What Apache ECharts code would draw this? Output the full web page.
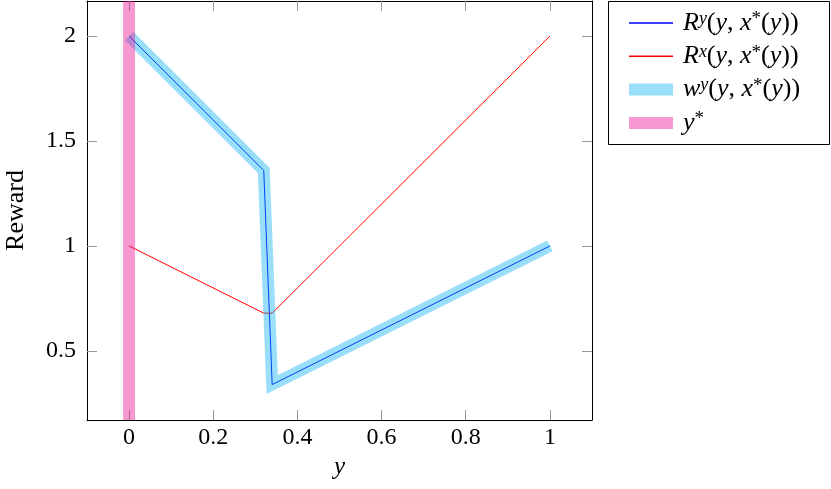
<!DOCTYPE html>
<html>
<head>
<meta charset="utf-8">
<script src="https://cdn.jsdelivr.net/npm/echarts@6/dist/echarts.min.js"></script>
<style>
  html, body { margin: 0; padding: 0; background: #fff; }
  #main { width: 831px; height: 489px; }
</style>
</head>
<body>
<div id="main"></div>
<script>
// data
var ryData = [[0, 2], [0.32, 1.36], [0.34, 0.34], [1, 1]];
var rxData = [[0, 1], [0.32, 0.68], [0.34, 0.68], [1, 2]];
var wyData = [[0, 2], [0.32, 1.36], [0.34, 0.34], [1, 1]];
var yStar = 0;
var xTicks = [0, 0.2, 0.4, 0.6, 0.8, 1];
var xTickLabels = ['0', '0.2', '0.4', '0.6', '0.8', '1'];
var yTicks = [0.5, 1, 1.5, 2];
var yTickLabels = ['0.5', '1', '1.5', '2'];
var xMin = -0.1, xMax = 1.1;
var yMin = 0.171, yMax = 2.167;

var serif = 'Liberation Serif';
var chart = echarts.init(document.getElementById('main'));

function lab(list, labels) {
  return function (v) {
    for (var i = 0; i < list.length; i++) {
      if (Math.abs(list[i] - v) < 1e-9) return labels[i];
    }
    return '';
  };
}

function baseAxis(pos, show) {
  return {
    type: 'value',
    position: pos,
    axisLine: { show: true, onZero: false, lineStyle: { color: '#000', width: 1 } },
    axisTick: { show: true, inside: true, length: 10, lineStyle: { color: '#999', width: 1 } },
    axisLabel: { show: show, color: '#000', fontFamily: serif, fontSize: 24 },
    splitLine: { show: false }
  };
}

var xBottom = baseAxis('bottom', true);
xBottom.min = xMin; xBottom.max = xMax;
xBottom.axisTick.customValues = xTicks;
xBottom.axisLabel.customValues = xTicks;
xBottom.axisLabel.formatter = lab(xTicks, xTickLabels);
xBottom.axisLabel.margin = 6;
xBottom.name = 'y';
xBottom.nameLocation = 'middle';
xBottom.nameGap = 32;
xBottom.nameTextStyle = { fontFamily: serif, fontStyle: 'italic', fontSize: 25, color: '#000' };

var xTop = baseAxis('top', false);
xTop.min = xMin; xTop.max = xMax;
xTop.axisTick.customValues = xTicks;

var yLeft = baseAxis('left', true);
yLeft.min = yMin; yLeft.max = yMax;
yLeft.axisTick.customValues = yTicks;
yLeft.axisLabel.customValues = yTicks;
yLeft.axisLabel.formatter = lab(yTicks, yTickLabels);
yLeft.axisLabel.margin = 11;
yLeft.name = 'Reward';
yLeft.nameLocation = 'middle';
yLeft.nameGap = 58;
yLeft.nameTextStyle = { fontFamily: serif, fontSize: 26, color: '#000' };

var yRight = baseAxis('right', false);
yRight.min = yMin; yRight.max = yMax;
yRight.axisTick.customValues = yTicks;

var legendText = {
  'Ry': '{i|R}{sup|y}{r|(}{i|y}{r|, }{i|x}{st|*}{r|(}{i|y}{r|))}',
  'Rx': '{i|R}{sup|x}{r|(}{i|y}{r|, }{i|x}{st|*}{r|(}{i|y}{r|))}',
  'wy': '{i|w}{sup|y}{r|(}{i|y}{r|, }{i|x}{st|*}{r|(}{i|y}{r|))}',
  'ys': '{i|y}{st|*}'
};

var option = {
  animation: false,
  backgroundColor: '#fff',
  grid: { left: 87, right: 239, top: 1, bottom: 69, outerBoundsMode: 'none', containLabel: false },
  xAxis: [xBottom, xTop],
  yAxis: [yLeft, yRight],
  legend: {
    orient: 'vertical',
    left: 608,
    top: 1,
    padding: [9, 10, 11, 15],
    itemWidth: 44,
    itemHeight: 12,
    itemGap: 7.3,
    itemStyle: { opacity: 0 },
    data: [
      { name: 'Ry', lineStyle: { width: 1.5 } },
      { name: 'Rx', lineStyle: { width: 1.5 } },
      { name: 'wy', lineStyle: { width: 12 } },
      { name: 'ys', lineStyle: { width: 12 } }
    ],
    formatter: function (name) { return legendText[name]; },
    textStyle: {
      padding: [0, 0, 0, 5],
      rich: {
        i: { fontFamily: serif, fontStyle: 'italic', fontSize: 26, lineHeight: 26, color: '#000' },
        r: { fontFamily: serif, fontSize: 26, lineHeight: 26, color: '#000' },
        sup: { fontFamily: serif, fontStyle: 'italic', fontSize: 18, lineHeight: 14, verticalAlign: 'top', color: '#000' },
        st: { fontFamily: serif, fontSize: 19, lineHeight: 16, verticalAlign: 'top', color: '#000' }
      }
    }
  },
  graphic: [{
    type: 'rect',
    shape: { x: 608.5, y: 1.5, width: 221, height: 143 },
    style: { fill: 'none', stroke: '#000', lineWidth: 1 },
    z: 100
  }],
  series: [
    {
      name: 'Ry', type: 'line', data: ryData, symbol: 'none',
      lineStyle: { color: '#0000ff', width: 1 }, itemStyle: { color: '#0000ff' }, z: 2
    },
    {
      name: 'Rx', type: 'line', data: rxData, symbol: 'none',
      lineStyle: { color: '#ff0000', width: 1 }, itemStyle: { color: '#ff0000' }, z: 3
    },
    {
      name: 'wy', type: 'line', data: wyData, symbol: 'none',
      lineStyle: { color: '#00aeef', width: 12, opacity: 0.4, join: 'miter' },
      itemStyle: { color: '#00aeef' }, z: 4
    },
    {
      name: 'ys', type: 'line', data: [[yStar, yMin], [yStar, yMax]], symbol: 'none',
      lineStyle: { color: '#ec008c', width: 12, opacity: 0.4 },
      itemStyle: { color: '#ec008c' }, z: 5
    }
  ]
};

chart.setOption(option);
</script>
</body>
</html>
